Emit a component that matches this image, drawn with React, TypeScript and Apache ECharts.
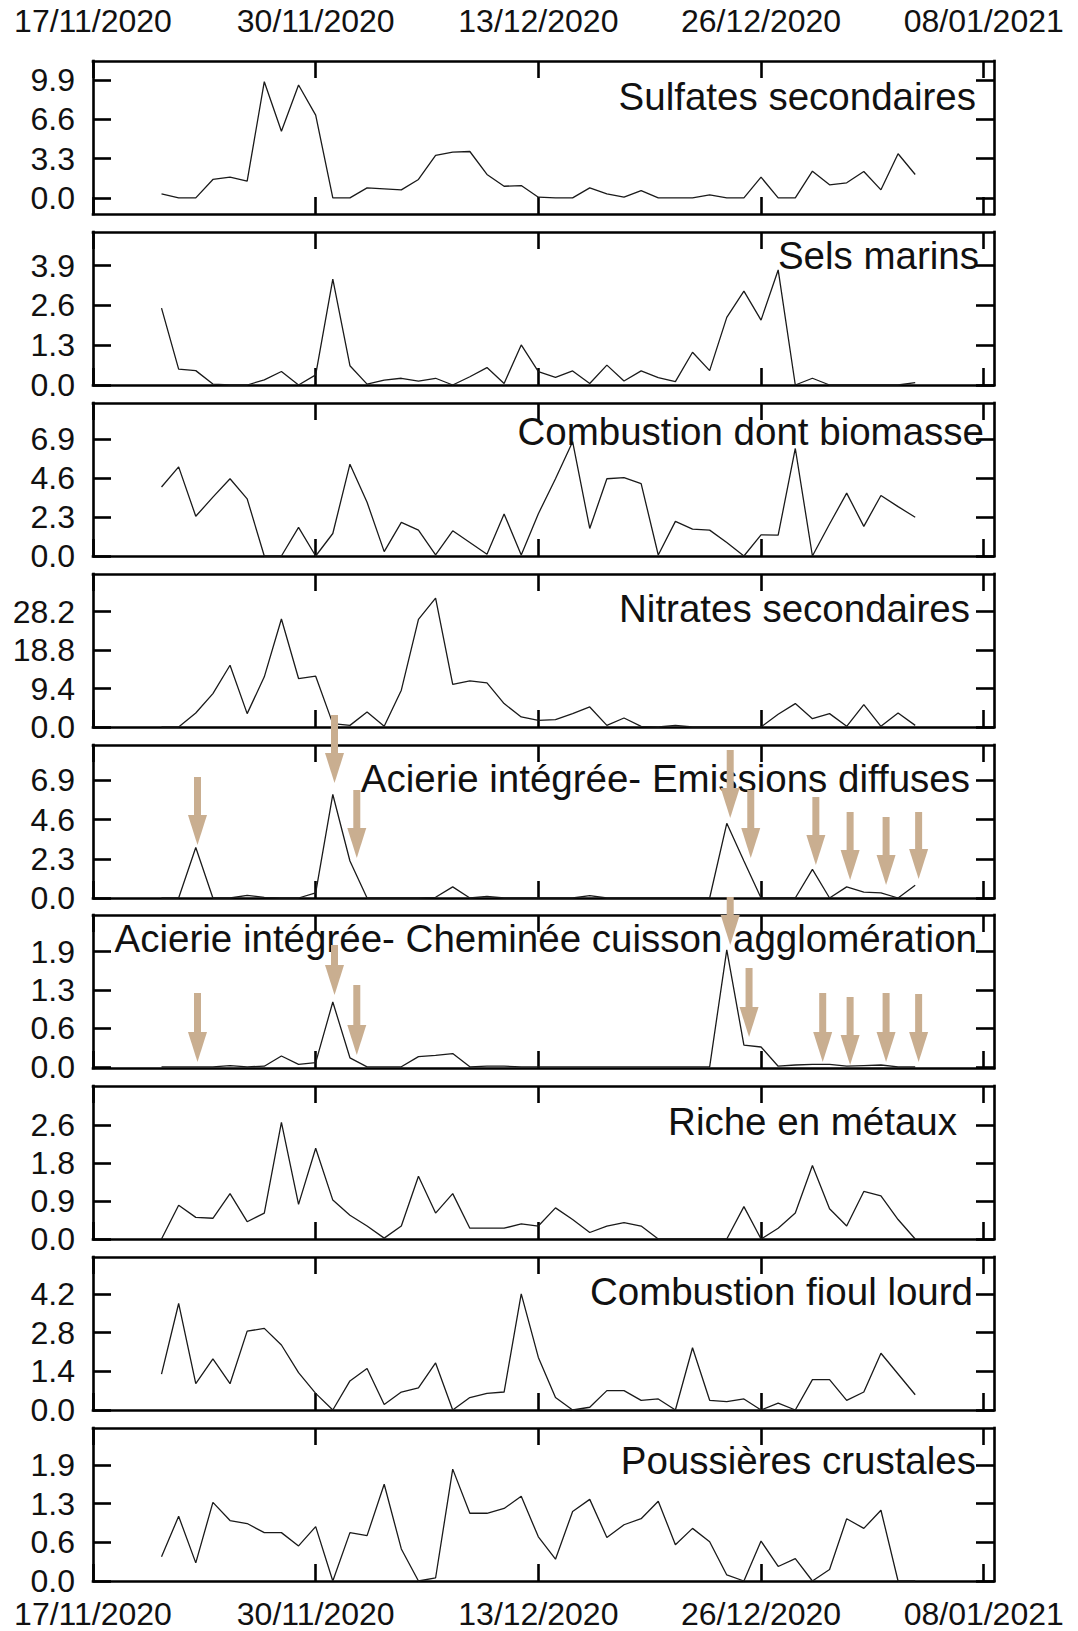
import React, { useEffect, useRef } from "react";
import * as echarts from "echarts";

// days since 17/11/2020 (21/11/2020 -> 04/01/2021)
const dayOffsets = [
  4, 5, 6, 7, 8, 9, 10, 11, 12, 13, 14, 15, 16, 17, 18, 19, 20, 21, 22, 23, 24, 25,
  26, 27, 28, 29, 30, 31, 32, 33, 34, 35, 36, 37, 38, 39, 40, 41, 42, 43, 44, 45, 46, 47, 48,
];

const xTickDays = [0, 13, 26, 39, 52];
const xTickLabels = ["17/11/2020", "30/11/2020", "13/12/2020", "26/12/2020", "08/01/2021"];

const sulfates = [
  0.34, 0, 0, 1.55, 1.74, 1.41, 9.76, 5.6, 9.48, 6.95, 0, 0, 0.84, 0.76, 0.68, 1.55, 3.57, 3.85, 3.9, 1.97, 0.98, 1.04,
  0.06, 0, 0, 0.84, 0.34, 0.06, 0.62, 0, 0, 0, 0.25, 0, 0, 1.74, 0, 0, 2.25, 1.1, 1.27, 2.22, 0.68, 3.71, 1.97,
];
const selsMarins = [
  2.51, 0.52, 0.47, 0.03, 0, 0, 0.17, 0.44, 0, 0.33, 3.46, 0.63, 0.03, 0.16, 0.22, 0.13, 0.22, 0, 0.27, 0.57, 0.05, 1.31,
  0.44, 0.25, 0.46, 0.05, 0.65, 0.13, 0.46, 0.24, 0.11, 1.07, 0.47, 2.21, 3.07, 2.12, 3.76, 0, 0.22, 0, 0, 0, 0, 0, 0.08,
];
const combustionBiomasse = [
  4.08, 5.27, 2.35, 3.48, 4.57, 3.38, 0, 0, 1.69, 0, 1.33, 5.43, 3.18, 0.26, 1.99, 1.53, 0.06, 1.49, 0.8, 0.1, 2.49, 0.06,
  2.5, 4.57, 6.76, 1.63, 4.57, 4.63, 4.28, 0.06, 2.05, 1.59, 1.53, 0.8, 0, 1.25, 1.23, 6.36, 0, 1.89, 3.72, 1.75, 3.58, 2.92, 2.29,
];
const nitrates = [
  0, 0, 3.43, 8.17, 15.1, 3.27, 12.26, 26.4, 11.85, 12.42, 0.82, 0.4, 3.68, 0.16, 9.0, 26.3, 31.5, 10.4, 11.3, 10.8, 5.72, 2.45,
  1.63, 1.8, 3.27, 4.9, 0.4, 2.2, 0.16, 0, 0.4, 0, 0, 0, 0, 0, 3.1, 5.72, 2.04, 3.27, 0.16, 5.48, 0.16, 3.43, 0.4,
];
const emissionsDiffuses = [
  0, 0, 2.96, 0, 0, 0.16, 0.04, 0, 0, 0.3, 6.07, 2.17, 0, 0, 0, 0, 0.04, 0.65, 0, 0.1, 0, 0,
  0, 0, 0, 0.14, 0, 0, 0, 0, 0, 0, 0, 4.38, 2.17, 0, 0, 0, 1.68, 0, 0.65, 0.35, 0.3, 0, 0.75,
];
const chemineeAgglomeration = [
  0, 0, 0, 0, 0.02, 0, 0.01, 0.18, 0.04, 0.07, 1.08, 0.15, 0, 0, 0, 0.17, 0.19, 0.22, 0, 0.01, 0.01, 0,
  0, 0, 0, 0, 0, 0, 0, 0, 0, 0, 0, 1.95, 0.36, 0.33, 0.01, 0.03, 0.04, 0.04, 0.01, 0.02, 0.03, 0, 0,
];
const richeMetaux = [
  0, 0.78, 0.5, 0.48, 1.05, 0.4, 0.6, 2.7, 0.8, 2.1, 0.9, 0.55, 0.3, 0.02, 0.3, 1.45, 0.6, 1.05, 0.25, 0.25, 0.25, 0.35,
  0.3, 0.72, 0.45, 0.15, 0.3, 0.38, 0.3, 0, 0, 0, 0, 0, 0.75, 0, 0.25, 0.6, 1.7, 0.7, 0.3, 1.1, 1.0, 0.45, 0,
];
const fioulLourd = [
  1.3, 3.85, 0.95, 1.85, 0.95, 2.85, 2.95, 2.35, 1.35, 0.6, 0, 1.05, 1.5, 0.2, 0.65, 0.8, 1.7, 0, 0.45, 0.6, 0.65, 4.2,
  1.9, 0.45, 0, 0.1, 0.7, 0.7, 0.35, 0.4, 0, 2.25, 0.35, 0.3, 0.4, 0, 0.25, 0, 1.1, 1.1, 0.35, 0.65, 2.05, 1.3, 0.55,
];
const poussieresCrustales = [
  0.4, 1.07, 0.3, 1.3, 1.0, 0.95, 0.8, 0.8, 0.58, 0.9, 0, 0.8, 0.75, 1.6, 0.53, 0, 0.05, 1.85, 1.12, 1.12, 1.2, 1.4,
  0.73, 0.36, 1.15, 1.35, 0.72, 0.93, 1.03, 1.32, 0.6, 0.87, 0.65, 0.1, 0, 0.66, 0.24, 0.37, 0, 0.19, 1.03, 0.87, 1.17, 0, 0,
];

const panelNames = [
  "Sulfates secondaires",
  "Sels marins",
  "Combustion dont biomasse",
  "Nitrates secondaires",
  "Acierie intégrée- Emissions diffuses",
  "Acierie intégrée- Cheminée cuisson agglomération",
  "Riche en métaux",
  "Combustion fioul lourd",
  "Poussières crustales",
];
const panelSeries = [
  sulfates, selsMarins, combustionBiomasse, nitrates, emissionsDiffuses,
  chemineeAgglomeration, richeMetaux, fioulLourd, poussieresCrustales,
];
const yMins = [-1.35, 0, 0, 0, 0, -0.02, 0, 0, 0];
const yMaxs = [11.5, 5.0, 9.05, 37.4, 8.97, 2.53, 3.54, 5.53, 2.53];
const yIntervals = [3.3, 1.3, 2.3, 9.4, 2.3, 0.64, 0.88, 1.4, 0.64];

// arrows (annotation): [panel, day, tailY, tipY]
const arrows = [
  [4, 6.1, 777, 845], [4, 14.1, 715, 783], [4, 15.4, 790, 858], [4, 37.2, 750, 818], [4, 38.4, 790, 858],
  [4, 42.2, 797, 865], [4, 44.2, 812, 880], [4, 46.3, 817, 885], [4, 48.2, 812, 879],
  [5, 6.1, 993, 1062], [5, 14.1, 945, 995], [5, 15.4, 985, 1055], [5, 37.2, 897, 945], [5, 38.3, 968, 1037],
  [5, 42.6, 993, 1062], [5, 44.2, 997, 1065], [5, 46.3, 993, 1062], [5, 48.2, 994, 1062],
];

// layout
const W = 1078;
const H = 1631;
const gridLeft = 93;
const gridWidth = 901;
const xMax = 52.6;
const panelTops = [61, 232, 403, 574, 745, 915, 1086, 1257, 1428];
const panelHeight = 153;
const titleRight = [976, 979, 984, 970, 970, 977, 957, 973, 976];
const titleMid = [35, 23, 28, 34, 33, 23, 35, 34, 32];

const FONT = '"Liberation Sans", Arial, sans-serif';
const INK = "#111";
const ARROW = "#c9ae90";

function buildOption() {
  const grid: any[] = [];
  const xAxis: any[] = [];
  const yAxis: any[] = [];
  const series: any[] = [];
  const axisLine = { show: true, onZero: false, lineStyle: { color: "#000", width: 2.6, cap: "square" } };
  panelSeries.forEach((vals, i) => {
    grid.push({ left: gridLeft, top: panelTops[i], width: gridWidth, height: panelHeight, containLabel: false });
    const yTicks = [0, 1, 2, 3].map((k) => Math.round(k * yIntervals[i] * 1000) / 1000);
    ["bottom", "top"].forEach((pos) => {
      const showLbl = (pos === "top" && i === 0) || (pos === "bottom" && i === panelSeries.length - 1);
      xAxis.push({
        type: "value",
        gridIndex: i,
        position: pos,
        min: 0,
        max: xMax,
        axisLine,
        axisTick: { show: true, inside: true, length: 17, customValues: xTickDays, lineStyle: { color: "#000", width: 2.6 } },
        axisLabel: {
          show: showLbl,
          customValues: xTickDays,
          formatter: (v: number) => xTickLabels[Math.round(v / 13)] ?? "",
          fontSize: 32,
          lineHeight: 32,
          fontFamily: FONT,
          color: INK,
          margin: pos === "top" ? 24 : 17,
        },
        splitLine: { show: false },
      });
    });
    ["left", "right"].forEach((pos) => {
      yAxis.push({
        type: "value",
        gridIndex: i,
        position: pos,
        min: yMins[i],
        max: yMaxs[i],
        axisLine,
        axisTick: { show: true, inside: true, length: 18, customValues: yTicks, lineStyle: { color: "#000", width: 2.6 } },
        axisLabel: {
          show: pos === "left",
          customValues: yTicks,
          formatter: (v: number) => v.toFixed(1),
          fontSize: 32,
          lineHeight: 30,
          fontFamily: FONT,
          color: INK,
          margin: 18,
        },
        splitLine: { show: false },
      });
    });
    series.push({
      type: "line",
      name: panelNames[i],
      xAxisIndex: 2 * i,
      yAxisIndex: 2 * i,
      data: dayOffsets.map((d, k) => [d, vals[k]]),
      symbol: "none",
      lineStyle: { color: "#1a1a1a", width: 1.3 },
      clip: true,
    });
  });
  return { animation: false, backgroundColor: "#fff", grid, xAxis, yAxis, series };
}

export default function App() {
  const ref = useRef<HTMLDivElement>(null);
  useEffect(() => {
    document.body.style.margin = "0";
    if (!ref.current) return;
    const chart = echarts.init(ref.current, undefined, { renderer: "svg" });
    chart.setOption(buildOption());
    const graphic: any[] = [];
    panelNames.forEach((name, i) => {
      graphic.push({
        type: "text",
        z: 50,
        x: titleRight[i],
        y: panelTops[i] + titleMid[i],
        style: {
          text: name,
          fontSize: 38.5,
          fontFamily: FONT,
          fill: INK,
          align: "right",
          verticalAlign: "middle",
          textAlign: "right",
          textVerticalAlign: "middle",
        },
      });
    });
    arrows.forEach(([p, day, tail, tip]) => {
      const x = chart.convertToPixel({ xAxisIndex: 2 * p } as any, day) as number;
      const head = 30;
      graphic.push({
        type: "rect",
        z: 60,
        shape: { x: x - 3.5, y: tail, width: 7, height: tip - head - tail + 2 },
        style: { fill: ARROW },
      });
      graphic.push({
        type: "polygon",
        z: 60,
        shape: { points: [[x - 9.5, tip - head], [x + 9.5, tip - head], [x, tip]] },
        style: { fill: ARROW },
      });
    });
    chart.setOption({ graphic });
    return () => chart.dispose();
  }, []);
  return <div ref={ref} style={{ width: W, height: H, background: "#fff" }} />;
}
